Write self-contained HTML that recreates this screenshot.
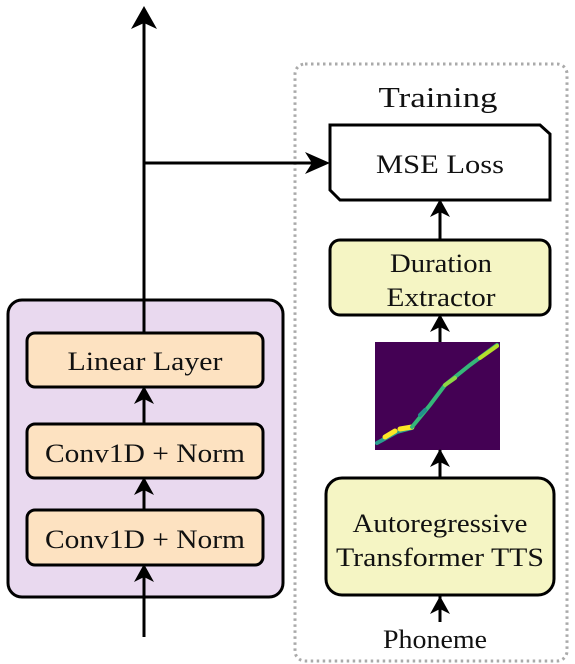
<!DOCTYPE html>
<html><head><meta charset="utf-8"><style>
html,body{margin:0;padding:0;background:#fff;}
svg{display:block;}
text{font-family:"Liberation Serif",serif;fill:#111;text-anchor:middle;}
</style></head><body>
<svg width="575" height="664" viewBox="0 0 575 664" xmlns="http://www.w3.org/2000/svg">
<rect x="295" y="64" width="272" height="597" rx="10" fill="none" stroke="#aaa" stroke-width="3" stroke-dasharray="2.5,3.5"/>
<text x="438" y="107" font-size="28" textLength="119" lengthAdjust="spacingAndGlyphs">Training</text>
<rect x="8" y="300" width="275" height="297" rx="14" fill="#e9d9ef" stroke="#000" stroke-width="3"/>
<line x1="144" y1="10" x2="144" y2="637" stroke="#000" stroke-width="3"/>
<line x1="144" y1="163" x2="325" y2="163" stroke="#000" stroke-width="3"/>
<rect x="27" y="333" width="236" height="54" rx="8" fill="#fde2c1" stroke="#000" stroke-width="3"/>
<text x="145" y="370" font-size="26" textLength="155" lengthAdjust="spacingAndGlyphs">Linear Layer</text>
<rect x="27" y="424" width="236" height="54" rx="8" fill="#fde2c1" stroke="#000" stroke-width="3"/>
<text x="145" y="462" font-size="26" textLength="200" lengthAdjust="spacingAndGlyphs">Conv1D + Norm</text>
<rect x="27" y="510" width="236" height="55" rx="8" fill="#fde2c1" stroke="#000" stroke-width="3"/>
<text x="145" y="548" font-size="26" textLength="200" lengthAdjust="spacingAndGlyphs">Conv1D + Norm</text>
<polygon points="330,125 540,125 550,134 550,200 340,200 330,190" fill="#fff" stroke="#000" stroke-width="3"/>
<text x="440" y="173" font-size="26" textLength="128" lengthAdjust="spacingAndGlyphs">MSE Loss</text>
<line x1="440" y1="200" x2="440" y2="240" stroke="#000" stroke-width="3"/>
<line x1="440" y1="315" x2="440" y2="342" stroke="#000" stroke-width="3"/>
<line x1="440" y1="450" x2="440" y2="478" stroke="#000" stroke-width="3"/>
<line x1="440" y1="596" x2="440" y2="622" stroke="#000" stroke-width="3"/>
<rect x="330" y="240" width="220" height="75" rx="10" fill="#f5f5c4" stroke="#000" stroke-width="3"/>
<text x="441" y="272" font-size="26" textLength="102" lengthAdjust="spacingAndGlyphs">Duration</text>
<text x="441" y="306" font-size="26" textLength="109" lengthAdjust="spacingAndGlyphs">Extractor</text>
<rect x="375" y="342" width="125" height="108" fill="#440154"/>
<g stroke-linecap="round" stroke-width="4" fill="none">
<path d="M377,443 L397,432 L412,428" stroke="#2a9d8f"/>
<path d="M385,437 L395,431" stroke="#fde725" stroke-width="5"/>
<path d="M400,429 L412,427" stroke="#fde725" stroke-width="5"/>
<path d="M412,427 L430,405 L445,385 L470,365 L497,345" stroke="#35b779"/>
<path d="M420,415 L425,410" stroke="#21918c"/>
<path d="M445,385 L455,378" stroke="#8fd744"/>
<path d="M480,358 L497,346" stroke="#b5de2b"/>
</g>
<rect x="326" y="478" width="228" height="117" rx="16" fill="#f5f5c4" stroke="#000" stroke-width="3"/>
<text x="440" y="532" font-size="26" textLength="175" lengthAdjust="spacingAndGlyphs">Autoregressive</text>
<text x="440" y="566" font-size="26" textLength="208" lengthAdjust="spacingAndGlyphs">Transformer TTS</text>
<text x="435" y="648" font-size="26" textLength="104" lengthAdjust="spacingAndGlyphs">Phoneme</text>
<g fill="#000">
<polygon points="144,6 131,29 144,23 157,29"/>
<polygon points="144,386 134,404 144,399 154,404"/>
<polygon points="144,477 134,495 144,490 154,495"/>
<polygon points="144,564 134,582 144,577 154,582"/>
<polygon points="440,199 430,217 440,212 450,217"/>
<polygon points="440,314 430,332 440,327 450,332"/>
<polygon points="440,449 430,467 440,462 450,467"/>
<polygon points="440,596 430,614 440,609 450,614"/>
<polygon points="330,163 305,152 312,163 305,174"/>
</g>
</svg>
</body></html>
